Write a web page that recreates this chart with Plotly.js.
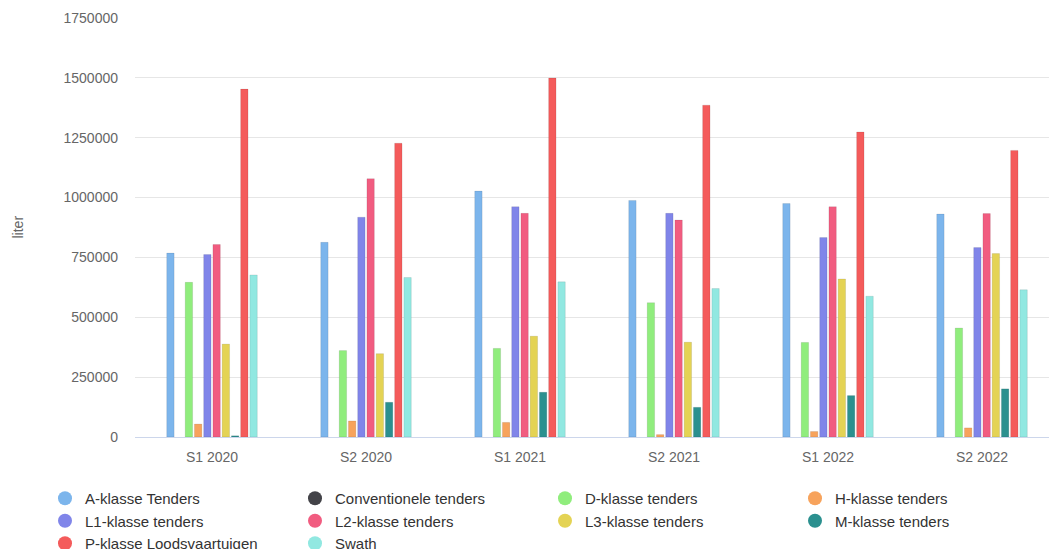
<!DOCTYPE html>
<html>
<head>
<meta charset="utf-8">
<script src="https://cdn.plot.ly/plotly-3.0.1.min.js"></script>
<style>html,body{margin:0;padding:0;background:#fff;overflow:hidden}#chart{width:1049px;height:549px}</style>
</head>
<body>
<div id="chart"></div>
<script>
var categories = ["S1 2020", "S2 2020", "S1 2021", "S2 2021", "S1 2022", "S2 2022"];
var seriesNames = ["A-klasse Tenders", "Conventionele tenders", "D-klasse tenders", "H-klasse tenders",
  "L1-klasse tenders", "L2-klasse tenders", "L3-klasse tenders", "M-klasse tenders",
  "P-klasse Loodsvaartuigen", "Swath"];
var aKlasse      = [768000, 813000, 1027000, 988000, 975000, 931000];
var conventionele = [null, null, null, null, null, null];
var dKlasse      = [646000, 361000, 370000, 561000, 395000, 455000];
var hKlasse      = [54000, 67000, 61000, 10000, 23000, 38000];
var l1Klasse     = [762000, 918000, 962000, 934000, 833000, 791000];
var l2Klasse     = [804000, 1079000, 934000, 906000, 962000, 933000];
var l3Klasse     = [388000, 348000, 421000, 396000, 660000, 766000];
var mKlasse      = [5000, 145000, 187000, 124000, 173000, 201000];
var pKlasse      = [1453000, 1227000, 1499000, 1386000, 1274000, 1197000];
var swath        = [677000, 666000, 648000, 620000, 588000, 615000];
var yTicks = [0, 250000, 500000, 750000, 1000000, 1250000, 1500000, 1750000];
var yTitle = "liter";

var seriesValues = [aKlasse, conventionele, dKlasse, hKlasse, l1Klasse, l2Klasse, l3Klasse, mKlasse, pKlasse, swath];
var colors = ["#7cb5ec", "#434348", "#90ed7d", "#f7a35c", "#8085e9", "#f15c80", "#e4d354", "#2b908f", "#f45b5b", "#91e8e1"];

var traces = [];
seriesNames.forEach(function(name, i) {
  traces.push({
    type: "bar", name: name, x: categories, y: seriesValues[i],
    marker: {color: colors[i], line: {color: "rgba(0,0,0,0.09)", width: 1}},
    showlegend: false, legendgroup: "g" + i, hoverinfo: "x+y+name"
  });
});
seriesNames.forEach(function(name, i) {
  traces.push({
    type: "scatter", mode: "markers", name: name, x: [null], y: [null],
    marker: {color: colors[i], size: 14, symbol: "circle"},
    showlegend: true, legendgroup: "g" + i, hoverinfo: "skip"
  });
});

var layout = {
  width: 1049, height: 549,
  margin: {l: 135, r: 0, t: 18, b: 112, pad: 0, autoexpand: false},
  paper_bgcolor: "#ffffff", plot_bgcolor: "#ffffff",
  font: {family: "Liberation Sans, Arial, sans-serif", color: "#666666", size: 14},
  barmode: "group", bargap: 0.4, bargroupgap: 0.2,
  xaxis: {
    type: "category", range: [-0.5, 5.435], showgrid: false, zeroline: false,
    showline: true, linecolor: "#ccd6eb", linewidth: 1, ticks: "",
    tickfont: {size: 14, color: "#666666"}, ticklabelstandoff: 7, fixedrange: true,
    automargin: false
  },
  yaxis: {
    range: [0, 1750000], tickvals: yTicks, tickformat: "d",
    showgrid: true, gridcolor: "#e6e6e6", gridwidth: 1, zeroline: false, showline: false,
    ticks: "", tickfont: {size: 14, color: "#666666"}, ticklabelstandoff: 16,
    fixedrange: true, automargin: false
  },
  annotations: [{
    text: yTitle, xref: "paper", yref: "paper", x: (17 - 135) / 914, y: 0.5,
    xanchor: "center", yanchor: "middle", textangle: -90, showarrow: false,
    font: {size: 14, color: "#666666"}
  }],
  legend: {
    orientation: "h", xref: "paper", yref: "paper",
    x: (45 - 135) / 914, xanchor: "left", y: (437 - 482) / 419, yanchor: "top",
    entrywidth: 205, entrywidthmode: "pixels", traceorder: "normal",
    font: {size: 15, color: "#333333"}, itemclick: false, itemdoubleclick: false,
    tracegroupgap: 0
  },
  showlegend: true
};

Plotly.newPlot("chart", traces, layout, {displayModeBar: false});
</script>
</body>
</html>
